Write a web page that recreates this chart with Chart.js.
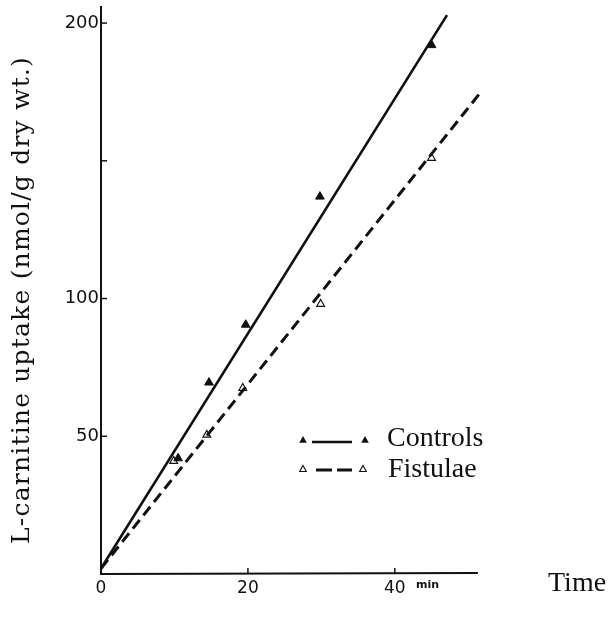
<!DOCTYPE html>
<html>
<head>
<meta charset="utf-8">
<script src="https://cdn.jsdelivr.net/npm/chart.js@4"></script>
<style>
  html, body { margin: 0; padding: 0; background: #fff; }
  #wrap { width: 608px; height: 627px; position: relative; }
</style>
</head>
<body>
<div id="wrap"><canvas id="chart"></canvas></div>
<script>
(function () {
  'use strict';

  // time (min) / uptake (nmol/g dry wt.)
  var controlsX = [10.5, 14.7, 19.7, 29.8, 45.0];
  var controlsY = [42, 69.5, 90.5, 137, 192];
  var fistulaeX = [9.9, 14.4, 19.3, 29.9, 45.0];
  var fistulaeY = [41, 50.5, 67.5, 98, 151];

  // regression lines (start / end)
  var controlsFitX = [0, 47.1];
  var controlsFitY = [2, 202.9];
  var fistulaeFitX = [0, 51.6];
  var fistulaeFitY = [2, 174.6];

  var yTicks = [50, 100, 150, 200];
  var yLabels = ['50', '100', '', '200'];
  var xTicks = [0, 20, 40];
  var xLabels = ['0', '20', '40'];

  var INK = '#111';

  function pts(xs, ys) {
    return xs.map(function (x, i) { return { x: x, y: ys[i] }; });
  }

  function tri(ctx, x, y, r, filled) {
    ctx.beginPath();
    ctx.moveTo(x, y - r);
    ctx.lineTo(x + r * 0.95, y + r * 0.7);
    ctx.lineTo(x - r * 0.95, y + r * 0.7);
    ctx.closePath();
    if (filled) { ctx.fillStyle = INK; ctx.fill(); }
    else { ctx.fillStyle = '#fff'; ctx.fill(); ctx.lineWidth = 1.1; ctx.strokeStyle = INK; ctx.stroke(); }
  }

  // axes, inward ticks, legend and extra labels
  var decor = {
    id: 'decor',
    afterDraw: function (chart) {
      var ctx = chart.ctx;
      var a = chart.chartArea;
      var xs = chart.scales.x, ys = chart.scales.y;
      ctx.save();
      ctx.strokeStyle = INK;
      ctx.lineWidth = 2;
      ctx.beginPath();
      ctx.moveTo(a.left, a.top);
      ctx.lineTo(a.left, a.bottom);
      ctx.lineTo(xs.getPixelForValue(51.3), a.bottom - 1);
      ctx.stroke();

      ctx.lineWidth = 1.5;
      yTicks.forEach(function (v) {
        var p = ys.getPixelForValue(v);
        ctx.beginPath(); ctx.moveTo(a.left, p); ctx.lineTo(a.left + 6, p); ctx.stroke();
      });
      xTicks.forEach(function (v) {
        if (v === 0) return;
        var p = xs.getPixelForValue(v);
        ctx.beginPath(); ctx.moveTo(p, a.bottom); ctx.lineTo(p, a.bottom - 6); ctx.stroke();
      });

      // y title
      ctx.fillStyle = INK;
      ctx.font = "25px 'DejaVu Serif'";
      ctx.textAlign = 'center';
      ctx.textBaseline = 'middle';
      ctx.save();
      ctx.translate(22, 300);
      ctx.rotate(-Math.PI / 2);
      ctx.letterSpacing = '1.2px';
      ctx.fillText('L-carnitine uptake (nmol/g dry wt.)', 0, 0);
      ctx.restore();

      // x title + unit
      ctx.textAlign = 'left';
      ctx.textBaseline = 'alphabetic';
      ctx.font = "28px 'Liberation Serif'";
      ctx.fillText('Time', 548, 591);
      ctx.font = "bold 11px 'DejaVu Sans'";
      ctx.fillText('min', 416, 588);

      // legend
      tri(ctx, 303, 440, 4, true);
      ctx.beginPath(); ctx.moveTo(312, 442); ctx.lineTo(352, 442); ctx.strokeStyle = INK; ctx.lineWidth = 2.5; ctx.stroke();
      tri(ctx, 365, 440, 4, true);
      tri(ctx, 303, 469, 3.5, false);
      ctx.setLineDash([16, 5]);
      ctx.lineWidth = 3;
      ctx.beginPath(); ctx.moveTo(316, 470); ctx.lineTo(352, 470); ctx.stroke();
      ctx.setLineDash([]);
      tri(ctx, 363, 469, 3.5, false);
      ctx.fillStyle = INK;
      ctx.font = "28px 'Liberation Serif'";
      ctx.fillText('Controls', 387, 446);
      ctx.fillText('Fistulae', 388, 477);
      ctx.restore();
    }
  };

  new Chart(document.getElementById('chart'), {
    type: 'scatter',
    data: {
      datasets: [
        {
          label: 'Controls fit',
          data: pts(controlsFitX, controlsFitY),
          showLine: true,
          borderColor: INK,
          borderWidth: 2.6,
          pointRadius: 0
        },
        {
          label: 'Fistulae fit',
          data: pts(fistulaeFitX, fistulaeFitY),
          showLine: true,
          borderColor: INK,
          borderWidth: 3,
          borderDash: [11, 6],
          pointRadius: 0
        },
        {
          label: 'Controls',
          data: pts(controlsX, controlsY),
          pointStyle: 'triangle',
          pointRadius: 5,
          backgroundColor: INK,
          borderColor: INK,
          borderWidth: 1
        },
        {
          label: 'Fistulae',
          data: pts(fistulaeX, fistulaeY),
          pointStyle: 'triangle',
          pointRadius: 4.5,
          backgroundColor: '#fff',
          borderColor: INK,
          borderWidth: 1.2
        }
      ]
    },
    options: {
      responsive: true,
      maintainAspectRatio: false,
      animation: false,
      layout: { padding: { top: 5, right: 125, bottom: 0, left: 0 } },
      plugins: {
        legend: { display: false },
        tooltip: { enabled: false }
      },
      scales: {
        x: {
          type: 'linear',
          min: 0,
          max: 52,
          grid: { display: false, drawTicks: false },
          border: { display: false },
          afterBuildTicks: function (s) { s.ticks = xTicks.map(function (v) { return { value: v }; }); },
          afterFit: function (s) { s.height = 53; s.paddingLeft = 0; s.paddingRight = 0; },
          ticks: {
            padding: 4,
            color: INK,
            font: { family: "'DejaVu Sans'", size: 17 },
            callback: function (v) { return xLabels[xTicks.indexOf(v)]; }
          }
        },
        y: {
          type: 'linear',
          min: 0,
          max: 206.2,
          grid: { display: false, drawTicks: false },
          border: { display: false },
          afterBuildTicks: function (s) { s.ticks = yTicks.map(function (v) { return { value: v }; }); },
          afterFit: function (s) { s.width = 101; s.paddingTop = 0; s.paddingBottom = 0; },
          ticks: {
            padding: 2,
            color: INK,
            font: { family: "'DejaVu Sans'", size: 18 },
            callback: function (v) { return yLabels[yTicks.indexOf(v)]; }
          }
        }
      }
    },
    plugins: [decor]
  });
})();
</script>
</body>
</html>
